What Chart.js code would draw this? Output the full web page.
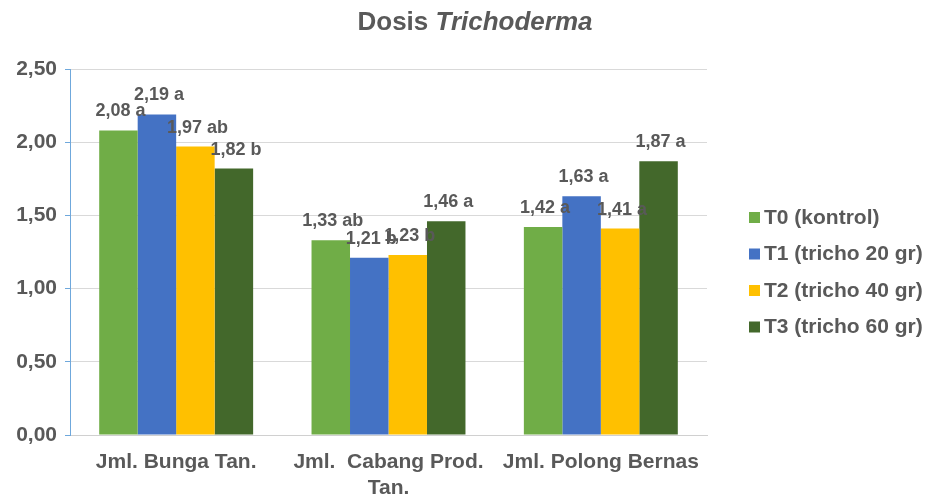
<!DOCTYPE html>
<html>
<head>
<meta charset="utf-8">
<script src="https://cdn.jsdelivr.net/npm/chart.js@4"></script>
<style>
  html, body { margin: 0; padding: 0; background: #fff; }
  #wrap { width: 929px; height: 497px; position: relative; }
</style>
</head>
<body>
<div id="wrap"><canvas id="c" width="929" height="497"></canvas></div>
<script>
const categories = ["Jml. Bunga Tan.", ["Jml.  Cabang Prod.", "Tan."], "Jml. Polong Bernas"];
const seriesNames = ["T0 (kontrol)", "T1 (tricho 20 gr)", "T2 (tricho 40 gr)", "T3 (tricho 60 gr)"];
const t0Values = [2.08, 1.33, 1.42];
const t1Values = [2.19, 1.21, 1.63];
const t2Values = [1.97, 1.23, 1.41];
const t3Values = [1.82, 1.46, 1.87];
const t0Letters = ["a", "ab", "a"];
const t1Letters = ["a", "b", "a"];
const t2Letters = ["ab", "b", "a"];
const t3Letters = ["b", "a", "a"];
const yTicks = [0, 0.5, 1.0, 1.5, 2.0, 2.5];
const titleMain = "Dosis ";
const titleItalic = "Trichoderma";

const colors = ["#70AD47", "#4472C4", "#FFC000", "#43682B"];
const textColor = "#595959";
const FONT = "'Liberation Sans', Arial, sans-serif";

const fmt = v => v.toFixed(2).replace('.', ',');

const allValues = [t0Values, t1Values, t2Values, t3Values];
const allLetters = [t0Letters, t1Letters, t2Letters, t3Letters];

const datasets = allValues.map((vals, i) => ({
  label: seriesNames[i],
  data: vals,
  letters: allLetters[i],
  backgroundColor: colors[i],
  borderWidth: 0,
  categoryPercentage: 0.725,
  barPercentage: 1.0
}));

const decorPlugin = {
  id: 'decor',
  afterDatasetsDraw(chart) {
    const ctx = chart.ctx;
    ctx.save();
    ctx.font = "bold 18px " + FONT;
    ctx.fillStyle = textColor;
    ctx.textAlign = 'center';
    ctx.textBaseline = 'alphabetic';
    chart.data.datasets.forEach((ds, di) => {
      const meta = chart.getDatasetMeta(di);
      meta.data.forEach((el, i) => {
        const txt = fmt(ds.data[i]) + " " + ds.letters[i];
        ctx.fillText(txt, el.x + 2, el.y - 14);
      });
    });
    ctx.restore();
  },
  afterDraw(chart) {
    const ctx = chart.ctx;
    ctx.save();
    ctx.fillStyle = textColor;
    ctx.textBaseline = 'alphabetic';
    const fN = "bold 26px " + FONT;
    const fI = "italic bold 26px " + FONT;
    ctx.font = fN; const w1 = ctx.measureText(titleMain).width;
    ctx.font = fI; const w2 = ctx.measureText(titleItalic).width;
    const cx = 475;
    let x = cx - (w1 + w2) / 2;
    ctx.font = fN; ctx.textAlign = 'left';
    ctx.fillText(titleMain, x, 30);
    ctx.font = fI;
    ctx.fillText(titleItalic, x + w1, 30);
    ctx.font = "bold 21px " + FONT;
    ctx.textBaseline = 'middle';
    const lx = 749, ly0 = 217, step = 36.5;
    chart.data.datasets.forEach((ds, i) => {
      const y = ly0 + i * step;
      ctx.fillStyle = ds.backgroundColor;
      ctx.fillRect(lx, y - 5, 11, 11);
      ctx.fillStyle = textColor;
      ctx.fillText(ds.label, lx + 15, y + 1);
    });
    ctx.restore();
  }
};

new Chart(document.getElementById('c'), {
  type: 'bar',
  data: { labels: categories, datasets },
  options: {
    responsive: false,
    animation: false,
    devicePixelRatio: 1,
    layout: { padding: { left: 0, right: 222, top: 69, bottom: 0 } },
    plugins: {
      legend: { display: false },
      title: { display: false },
      tooltip: { enabled: false }
    },
    scales: {
      x: {
        grid: { display: true, drawOnChartArea: false, drawTicks: false },
        border: { display: true, color: '#d0d0d0', width: 1 },
        ticks: {
          color: textColor,
          font: { family: FONT, size: 21, weight: 'bold' },
          padding: 15,
          maxRotation: 0,
          autoSkip: false
        },
        afterFit(scale) { scale.height = 62; }
      },
      y: {
        min: 0,
        max: 2.5,
        afterBuildTicks(scale) { scale.ticks = yTicks.map(v => ({ value: v })); },
        grid: { color: '#d9d9d9', lineWidth: 1, tickLength: 5, tickColor: '#6fa8dc', drawTicks: true },
        border: { display: true, color: '#6fa8dc', width: 1 },
        ticks: {
          color: textColor,
          font: { family: FONT, size: 21, weight: 'bold' },
          padding: 8,
          callback: v => fmt(v)
        },
        afterFit(scale) { scale.width = 70; }
      }
    }
  },
  plugins: [decorPlugin]
});
</script>
</body>
</html>
